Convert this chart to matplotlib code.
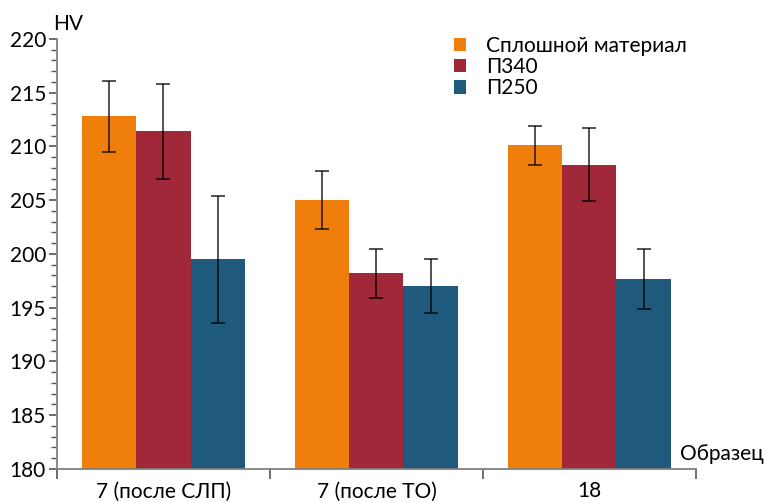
import matplotlib
matplotlib.use("Agg")
import matplotlib.pyplot as plt
import numpy as np
from matplotlib.ticker import MultipleLocator

plt.rcParams['font.family'] = ['Lato', 'DejaVu Sans']

categories = ["7 (после СЛП)", "7 (после ТО)", "18"]
series_names = ["Сплошной материал", "П340", "П250"]
solid_vals = [212.8, 205.0, 210.1]
p340_vals = [211.4, 198.2, 208.3]
p250_vals = [199.5, 197.0, 197.7]
solid_err = [3.3, 2.7, 1.8]
p340_err = [4.4, 2.3, 3.4]
p250_err = [5.9, 2.5, 2.8]

values = [solid_vals, p340_vals, p250_vals]
errors = [solid_err, p340_err, p250_err]
colors = ["#EF7F0A", "#A02838", "#1F5A7D"]

fig = plt.figure(figsize=(7.67, 5.03), dpi=100)
ax = fig.add_axes([0.0743, 0.0676, 0.833, 0.855])

x = np.arange(len(categories))
width = 0.254
for i, (vals, errs, col, name) in enumerate(zip(values, errors, colors, series_names)):
    pos = x + (i - 1) * width
    ax.bar(pos, np.array(vals) - 180, bottom=180, width=width, color=col,
           label=name, zorder=2)
    ax.errorbar(pos, vals, yerr=errs, fmt='none', ecolor='black', alpha=0.8,
                elinewidth=1.2, capsize=5, capthick=1.2, zorder=3)

ax.set_xlim(-0.5, 2.5)
ax.set_ylim(180, 220)
ax.yaxis.set_major_locator(MultipleLocator(5))
ax.yaxis.set_minor_locator(MultipleLocator(1))
ax.set_xticks([-0.5, 0.5, 1.5, 2.5])
ax.set_xticklabels([])
ax.set_xticks(x, minor=True)
ax.set_xticklabels(categories, minor=True, fontsize=15)
ax.tick_params(axis='x', which='minor', length=0, pad=9)
ax.tick_params(axis='x', which='major', length=7, width=1.2, color='#555555')
ax.tick_params(axis='y', which='major', length=6, width=1.2, color='#555555',
               labelsize=15, pad=2)
ax.tick_params(axis='y', which='minor', length=4, width=1.0, color='#555555')

for s in ['top', 'right']:
    ax.spines[s].set_visible(False)
for s in ['left', 'bottom']:
    ax.spines[s].set_color('#808080')
    ax.spines[s].set_linewidth(1.3)

fig.text(0.069, 0.952, "HV", fontsize=15, ha='left', va='center')
fig.text(0.887, 0.098, "Образец", fontsize=15, ha='left', va='center')

leg = ax.legend(loc='upper left', bbox_to_anchor=(0.592, 1.05), frameon=False,
                fontsize=15, handlelength=0.6, handleheight=0.6,
                handletextpad=0.95, labelspacing=0.05)

fig.savefig("out.png", dpi=100)
